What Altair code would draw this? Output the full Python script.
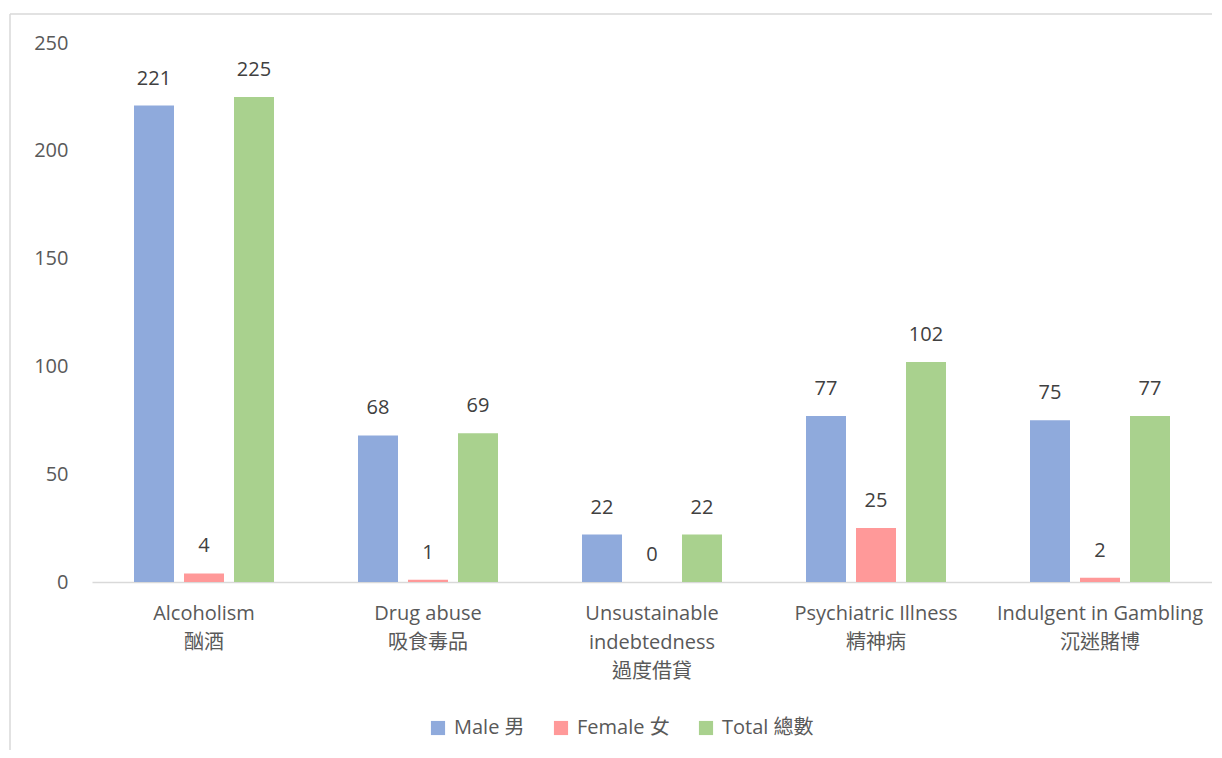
import altair as alt
import pandas as pd

categories = ["Alcoholism\n酗酒", "Drug abuse\n吸食毒品", "Unsustainable\nindebtedness\n過度借貸",
              "Psychiatric Illness\n精神病", "Indulgent in Gambling\n沉迷賭博"]
series = ["Male 男", "Female 女", "Total 總數"]
male = [221, 68, 22, 77, 75]
female = [4, 1, 0, 25, 2]
total = [225, 69, 22, 102, 77]
colors = ["#8FAADC", "#FF9999", "#A9D18E"]

rows = []
for i, c in enumerate(categories):
    for s, vals in zip(series, [male, female, total]):
        rows.append({"cat": c, "series": s, "value": vals[i]})
df = pd.DataFrame(rows)

FONT = "Segoe UI, Open Sans, Noto Sans CJK TC, sans-serif"

x = alt.X("cat:N", sort=categories, title=None,
          scale=alt.Scale(paddingInner=0.375, paddingOuter=0.1875),
          axis=alt.Axis(labelAngle=0, labelExpr="split(datum.label, '\\n')",
                        labelFontSize=20, labelColor="#595959", labelFont=FONT,
                        labelLineHeight=29, labelPadding=21, ticks=False, labelLimit=400,
                        domainColor="#D9D9D9", domainWidth=1.5, labelBaseline="top"))
xo = alt.XOffset("series:N", sort=series,
                 scale=alt.Scale(paddingInner=0.2, paddingOuter=0))
y = alt.Y("value:Q", title=None,
          scale=alt.Scale(domain=[0, 250]),
          axis=alt.Axis(values=[0, 50, 100, 150, 200, 250], grid=False, domain=False,
                        ticks=False, labelFontSize=20, labelColor="#595959",
                        labelFont=FONT, labelPadding=24))
color = alt.Color("series:N", sort=series,
                  scale=alt.Scale(domain=series, range=colors),
                  legend=alt.Legend(title=None, orient="none", legendX=336, legendY=675,
                                    direction="horizontal", symbolType="square",
                                    symbolSize=200, symbolStrokeWidth=0,
                                    labelFontSize=20, labelColor="#595959",
                                    labelFont=FONT, columnPadding=26, labelOffset=6))

base = alt.Chart(df)
bars = base.mark_bar().encode(x=x, xOffset=xo, y=y, color=color)
labels = base.mark_text(dy=-17, baseline="bottom", fontSize=20, color="#404040",
                        font=FONT).encode(x=x, xOffset=xo, y=y, text="value:Q")

border_df = pd.DataFrame({"k": [0]})
left_border = alt.Chart(border_df).mark_rule(color="#D9D9D9", strokeWidth=1.5).encode(
    x=alt.value(-82), y=alt.value(-29), y2=alt.value(740))
top_border = alt.Chart(border_df).mark_rule(color="#D9D9D9", strokeWidth=1.5).encode(
    x=alt.value(-82), x2=alt.value(1130), y=alt.value(-29))

chart = alt.layer(bars, labels, left_border, top_border).properties(
    width=1120, height=539,
    autosize=alt.AutoSizeParams(type="none"),
    padding={"left": 84, "top": 35, "right": 0, "bottom": 168},
    background="white",
).configure_view(stroke=None, strokeWidth=0)

chart.save("out.html", embed_options={"renderer": "svg", "actions": False})
